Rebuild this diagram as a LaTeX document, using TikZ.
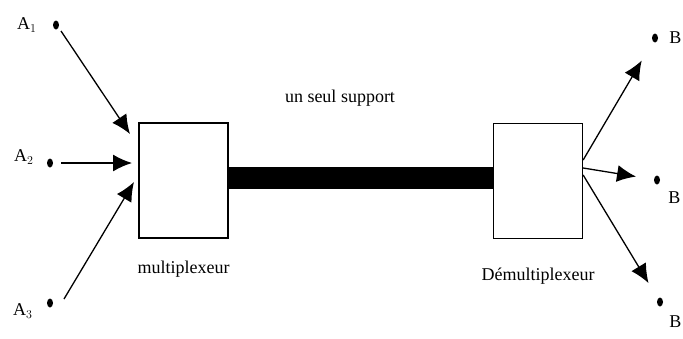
\documentclass[tikz,border=0pt]{standalone}
\usepackage{fontspec}
\setmainfont{Liberation Serif}
\usepackage{tikz}
\usetikzlibrary{arrows.meta,positioning,shapes.geometric}
\tikzstyle{box} = [rectangle, draw, line width=1.3pt, minimum width=89pt,
    minimum height=115pt, inner sep=0pt]
\tikzstyle{dot} = [ellipse, fill=black, minimum width=6pt, minimum height=9pt,
    inner sep=0pt]
\tikzstyle{txt} = [font=\fontsize{18}{20}\selectfont, inner sep=0pt]
\tikzstyle{fleche} = [-{Latex[length=19pt,width=17pt]}, line width=1.3pt]

\begin{document}
\begin{tikzpicture}[x=1pt,y=-1pt]
  \useasboundingbox (0,0) rectangle (683,338);
  % Place nodes
  \node [box] (mux) at (183.5,180.5) {};
  \node [box] (demux) at (538,181) {};
  \node [txt] (support) at (340,98) {un seul support};
  \node [txt, below=22pt of mux] (muxlbl) {multiplexeur};
  \node [txt, below=29pt of demux] (demuxlbl) {Démultiplexeur};
  % entries
  \node [dot] (a1) at (56,25) {};
  \node [dot] (a2) at (50,163) {};
  \node [dot] (a3) at (50,303) {};
  \node [txt, left=16pt of a1] (la1) {A$_{1}$};
  \node [txt, left=13pt of a2, yshift=6pt] (la2) {A$_{2}$};
  \node [txt, left=14pt of a3, yshift=-8pt] (la3) {A$_{3}$};
  % sorties
  \node [dot] (b1) at (655,38) {};
  \node [dot] (b2) at (657,180) {};
  \node [dot] (b3) at (660,302) {};
  \node [txt, right=11pt of b1] (lb1) {B};
  \node [txt, right=8pt of b2, yshift=-18pt] (lb2) {B};
  \node [txt, right=6pt of b3, yshift=-20pt] (lb3) {B};
  \coordinate (in1) at (130,134);
  \coordinate (in2) at (132,163);
  \coordinate (in3) at (134,182);
  % Draw edges
  \draw [line width=22pt] ([yshift=2.5pt]mux.east) -- ([yshift=3pt]demux.west);
  \draw [fleche] ([shift={(5pt,-6pt)}]a1.center) -- (in1);
  \draw [fleche] ([xshift=11pt]a2.center) -- (in2);
  \draw [fleche] ([shift={(14pt,4pt)}]a3.center) -- (in3);
  \draw [fleche, shorten >=22pt] ([yshift=21pt]demux.east) -- (b1);
  \draw [fleche, shorten >=18pt] ([yshift=13pt]demux.east) -- (b2);
  \draw [fleche, shorten >=18pt] ([yshift=6pt]demux.east) -- (b3);
\end{tikzpicture}
\end{document}
